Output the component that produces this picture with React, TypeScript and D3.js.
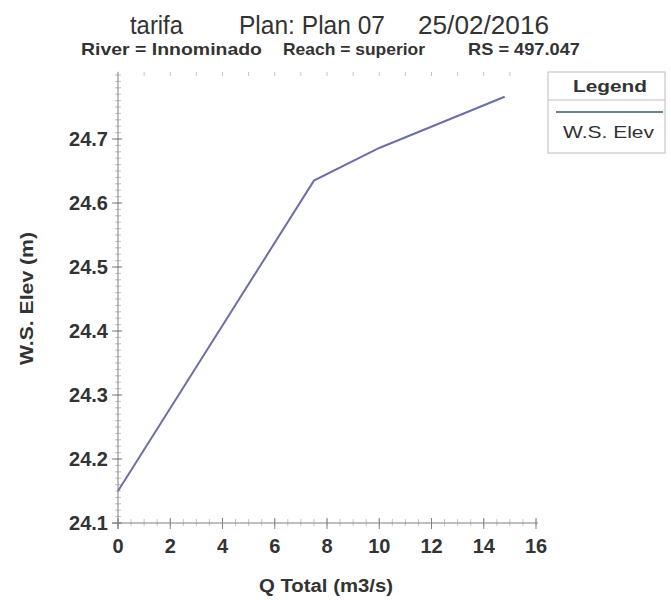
import * as d3 from "d3";

const flowQ = [0, 7.5, 10, 14.8];
const wsElev = [24.15, 24.635, 24.686, 24.766];
const xTicks = [0, 2, 4, 6, 8, 10, 12, 14, 16];
const yTicks = [24.1, 24.2, 24.3, 24.4, 24.5, 24.6, 24.7];

const W = 671;
const H = 600;
const font = "Arial, 'Liberation Sans', sans-serif";
const ink = "#333";
const sp = "spacingAndGlyphs";

export default function App() {
  const x = d3.scaleLinear().domain([0, 16]).range([118, 536]);
  const y = d3.scaleLinear().domain([24.1, 24.7]).range([523, 139]);

  const pts: [number, number][] = flowQ.map((q, i) => [q, wsElev[i]]);
  const line = d3.line<[number, number]>().x(d => x(d[0])).y(d => y(d[1]));

  const yMinor = d3.range(24.1, 24.805, 0.01);
  const xMinor = d3.range(0, 16.01, 0.5);

  return (
    <svg width={W} height={H} style={{ position: "absolute", left: 0, top: 0, background: "#fff" }}>
      {/* titles */}
      <g fontFamily={font} fill={ink}>
        <text x={130} y={34} fontSize={25} textLength={53} lengthAdjust={sp}>tarifa</text>
        <text x={239} y={34} fontSize={25} textLength={146} lengthAdjust={sp}>Plan: Plan 07</text>
        <text x={418} y={34} fontSize={25} textLength={131} lengthAdjust={sp}>25/02/2016</text>
        <text x={81} y={55} fontSize={17} fontWeight="bold" textLength={181} lengthAdjust={sp}>River = Innominado</text>
        <text x={283} y={55} fontSize={17} fontWeight="bold" textLength={142} lengthAdjust={sp}>Reach = superior</text>
        <text x={468} y={55} fontSize={17} fontWeight="bold" textLength={112} lengthAdjust={sp}>RS = 497.047</text>
      </g>

      {/* minor ticks */}
      <g stroke="#c4c4c4" strokeWidth={1}>
        {yMinor.map((v, i) => (
          <line key={"ym" + i} x1={x(0) - 3} x2={x(0) + 3} y1={y(v)} y2={y(v)} />
        ))}
        {xMinor.map((v, i) => (
          <line key={"xm" + i} x1={x(v)} x2={x(v)} y1={y(24.1) - 4} y2={y(24.1) + 3} />
        ))}
        {d3.range(1, 16, 1).map(v => (
          <line key={"top" + v} x1={x(v)} x2={x(v)} y1={72} y2={76} />
        ))}
      </g>

      {/* axes */}
      <g stroke="#808080" strokeWidth={1}>
        <line x1={x(0)} x2={x(0)} y1={y(24.805)} y2={y(24.1) + 6} />
        <line x1={x(0) - 6} x2={x(16) + 2} y1={y(24.1)} y2={y(24.1)} />
        {yTicks.map(v => (
          <line key={"yt" + v} x1={x(0) - 6} x2={x(0) + 4} y1={y(v)} y2={y(v)} />
        ))}
        {xTicks.map(v => (
          <line key={"xt" + v} x1={x(v)} x2={x(v)} y1={y(24.1) - 5} y2={y(24.1) + 6} />
        ))}
      </g>

      <g fontFamily={font} fill={ink} fontSize={20} fontWeight="bold">
        {yTicks.map(v => (
          <text key={"yl" + v} x={108} y={y(v) + 7} textAnchor="end">{v.toFixed(1)}</text>
        ))}
        {xTicks.map(v => (
          <text key={"xl" + v} x={x(v)} y={553} textAnchor="middle">{v}</text>
        ))}
      </g>

      <text x={259} y={592} fontFamily={font} fontSize={18} fontWeight="bold" fill={ink} textLength={134} lengthAdjust={sp}>
        Q Total  (m3/s)
      </text>
      <text
        transform="translate(33,365) rotate(-90)"
        fontFamily={font}
        fontSize={18}
        fontWeight="bold"
        fill={ink}
        textLength={133}
        lengthAdjust={sp}
      >
        W.S. Elev  (m)
      </text>

      {/* series */}
      <path d={line(pts) ?? ""} fill="none" stroke="#6d6fa6" strokeWidth={2} />

      {/* legend */}
      <g fontFamily={font} fill={ink}>
        <rect x={548} y={72} width={117} height={81} fill="#fff" stroke="#bdbdbd" />
        <line x1={548} x2={665} y1={100} y2={100} stroke="#bdbdbd" />
        <text x={573} y={92} fontSize={17} fontWeight="bold" textLength={74} lengthAdjust={sp}>Legend</text>
        <line x1={556} x2={663} y1={112} y2={112} stroke="#6b7f9c" strokeWidth={2} />
        <text x={563} y={138} fontSize={17} textLength={91} lengthAdjust={sp}>W.S. Elev</text>
      </g>
    </svg>
  );
}
